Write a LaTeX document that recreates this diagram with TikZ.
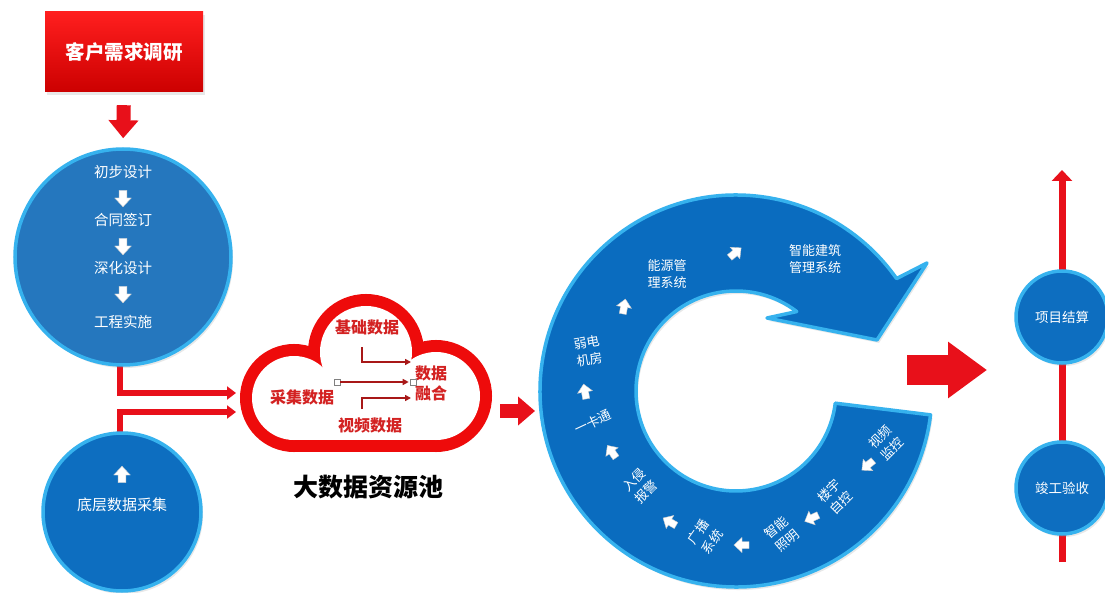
\documentclass[tikz,border=0pt]{standalone}
\usepackage{fontspec}
\newfontfamily\cjk{Noto Sans CJK SC}
\usetikzlibrary{arrows.meta,shadows,calc}
\definecolor{ringblue}{HTML}{0A6CBF}
\definecolor{circblue}{HTML}{2577BE}
\definecolor{deepblue}{HTML}{0D6EC0}
\definecolor{rimblue}{HTML}{36B2EE}
\definecolor{barred}{HTML}{E8101A}
\definecolor{cloudred}{HTML}{EE0B0B}
\definecolor{labelred}{HTML}{D32222}
\definecolor{wirered}{HTML}{A81818}
\pgfdeclarelayer{bg}
\pgfdeclarelayer{under}
\pgfsetlayers{bg,under,main}
\tikzset{
  wharrow/.pic={
    \fill[white, draw=black!20, line width=0.4pt]
      (-7,-3.5) -- (0,-3.5) -- (0,-7.5) -- (8,0) -- (0,7.5) -- (0,3.5) -- (-7,3.5) -- cycle;
  }
}
\begin{document}
\begin{tikzpicture}[x=1pt,y=-1pt,
  softshadow/.style={drop shadow={opacity=0.18, shadow xshift=2pt, shadow yshift=-3pt}},
  disc/.style={circle, fill=deepblue, draw=rimblue, line width=3.5pt, inner sep=0pt, softshadow},
  wtext/.style={text=white, font=\cjk\fontsize{13}{17}\selectfont, align=center, inner sep=0pt},
  cloudtext/.style={text=labelred, font=\cjk\bfseries\fontsize{16}{20}\selectfont, align=center, inner sep=0pt},
  redflow/.style={draw=barred, line cap=butt},
  redbar/.style={draw=barred, line width=6pt, -{Triangle[width=13pt,length=9pt]}},
  wire/.style={draw=wirered, line width=1.8pt, -{Triangle[width=6pt,length=6pt]}},
  handle/.style={draw=black!50, fill=white, line width=0.6pt, minimum size=6pt, inner sep=0pt},
]
\useasboundingbox (0,0) rectangle (1105,593);
\begin{pgfonlayer}{bg}
  \fill[white] (0,0) rectangle (1105,593);
\end{pgfonlayer}

% ---------- customer survey box ----------
\node[minimum width=158pt, minimum height=80pt, top color=red!88!white, bottom color=red!80!black,
      softshadow, text=white, font=\cjk\bfseries\fontsize{19.5}{22}\selectfont] (survey) at (124,52) {客户需求调研};

% ---------- design circle ----------
\node[disc, fill=circblue, minimum size=216pt] (design) at (123,257) {};
\node[wtext, font=\cjk\fontsize{14.5}{18}\selectfont] (s1) at (123,172) {初步设计};
\node[wtext, font=\cjk\fontsize{14.5}{18}\selectfont] (s2) at (123,220) {合同签订};
\node[wtext, font=\cjk\fontsize{14.5}{18}\selectfont] (s3) at (123,268) {深化设计};
\node[wtext, font=\cjk\fontsize{14.5}{18}\selectfont] (s4) at (123,322) {工程实施};
\pic[rotate=-90, scale=1.1] at (123,198) {wharrow};
\pic[rotate=-90, scale=1.1] at (123,246) {wharrow};
\pic[rotate=-90, scale=1.1] at (123,294) {wharrow};

\draw[redflow, line width=14pt, -{Triangle[width=29pt,length=18pt]}, shorten <=13pt, shorten >=9pt]
  (survey.south) -- (design.north);

% ---------- data collection circle ----------
\node[disc, minimum size=158pt] (collect) at (122,512) {};
\pic[rotate=90, scale=1.1] at (122,475) {wharrow};
\node[wtext, font=\cjk\fontsize{15}{18}\selectfont] (c1) at (122,505) {底层数据采集};

% ---------- feeds into the cloud ----------
\coordinate (in1) at (236,393);
\coordinate (in2) at (236,412);
\begin{pgfonlayer}{under}
  \draw[redbar] ([xshift=-3pt,yshift=8pt]design.south) |- (in1);
  \draw[redbar] ([xshift=-2pt,yshift=-8pt]collect.north) |- (in2);
\end{pgfonlayer}

% ---------- data cloud: outlined union of three bumps and a flat base ----------
\begin{scope}
  \draw[cloudred, line width=24pt] (294,398) circle[radius=42];
  \draw[cloudred, line width=24pt] (366,352) circle[radius=46];
  \draw[cloudred, line width=24pt] (436,396) circle[radius=44];
  \draw[cloudred, line width=24pt, line cap=round] (294,440) -- (436,440);
  \fill[white] (294,398) circle[radius=42];
  \fill[white] (366,352) circle[radius=46];
  \fill[white] (436,396) circle[radius=44];
  \fill[white] (294,370) rectangle (436,440);
\end{scope}
\node[cloudtext] (base) at (367,327) {基础数据};
\node[cloudtext] (acq) at (302,397) {采集数据};
\node[cloudtext] (fuse) at (431,383) {数据\\融合};
\node[cloudtext] (video) at (370,425) {视频数据};
\coordinate (w1) at (362,347);
\coordinate (w1e) at (411,362);
\coordinate (w3) at (362,409);
\coordinate (w3e) at (411,398);
\draw[wire] (w1) |- (w1e);
\draw[wire] (w3) |- (w3e);
\node[handle] (h1) at (337,382) {};
\node[handle] (h2) at (413,382) {};
\draw[wire, shorten >=1pt] (h1) -- (h2);
\node[font=\cjk\bfseries\fontsize{25}{28}\selectfont, inner sep=0pt] (pool) at (368,487) {大数据资源池};

% ---------- cloud to ring ----------
\coordinate (cloudE) at (490,411);
\coordinate (ringW) at (540,411);
\draw[redflow, line width=14pt, -{Triangle[width=28pt,length=17pt]}, shorten <=10pt, shorten >=5pt]
  (cloudE) -- (ringW);

% ---------- subsystem ring ----------
\coordinate (rc) at (736,391);
\path[fill=ringblue, draw=rimblue, line width=3.5pt, line join=round, softshadow]
  ($(rc)+(7:196)$) arc[start angle=7, end angle=325, radius=196]
  -- (927,263) -- (877,340) -- (767,318)
  -- ($(rc)+(307.4:100)$) arc[start angle=307.4, end angle=7, radius=100] -- cycle;

\node[wtext] (r1) at (815,259) {智能建筑\\管理系统};
\node[wtext] (r2) at (667,274) {能源管\\理系统};
\node[wtext, rotate=10] (r3) at (588,351) {弱电\\机房};
\node[wtext, rotate=25] (r4) at (593,422) {一卡通};
\node[wtext, rotate=45] (r5) at (640,486) {入侵\\报警};
\node[wtext, rotate=55] (r6) at (705,537) {广播\\系统};
\node[wtext, rotate=40] (r7) at (782,534) {智能\\照明};
\node[wtext, rotate=45] (r8) at (835,497) {楼宇\\自控};
\node[wtext, rotate=45] (r9) at (886,443) {视频\\监控};

\pic[rotate=220] at (868,465) {wharrow};
\pic[rotate=205] at (812,518) {wharrow};
\pic[rotate=180] at (742,545) {wharrow};
\pic[rotate=150] at (670,522) {wharrow};
\pic[rotate=125] at (612,452) {wharrow};
\pic[rotate=100] at (585,392) {wharrow};
\pic[rotate=80] at (624,307) {wharrow};
\pic[rotate=40] at (735,253) {wharrow};

% ---------- completion timeline ----------
\coordinate (vbot) at (1062,562);
\coordinate (vtop) at (1062,170);
\begin{pgfonlayer}{under}
  \draw[draw=barred, line width=7pt, -{Triangle[width=20pt,length=11pt]}] (vbot) -- (vtop);
\end{pgfonlayer}
\node[disc, minimum size=92pt] (settle) at (1062,317) {};
\node[wtext, font=\cjk\fontsize{13.5}{17}\selectfont] at (settle) {项目结算};
\node[disc, minimum size=92pt] (accept) at (1062,488) {};
\node[wtext, font=\cjk\fontsize{13.5}{17}\selectfont] at (accept) {竣工验收};

\coordinate (ringE) at (895,370);
\coordinate (lineP) at (1062,370);
\draw[redflow, line width=30pt, -{Triangle[width=54pt,length=39pt]}, shorten <=12pt, shorten >=75pt]
  (ringE) -- (lineP);
\end{tikzpicture}
\end{document}
